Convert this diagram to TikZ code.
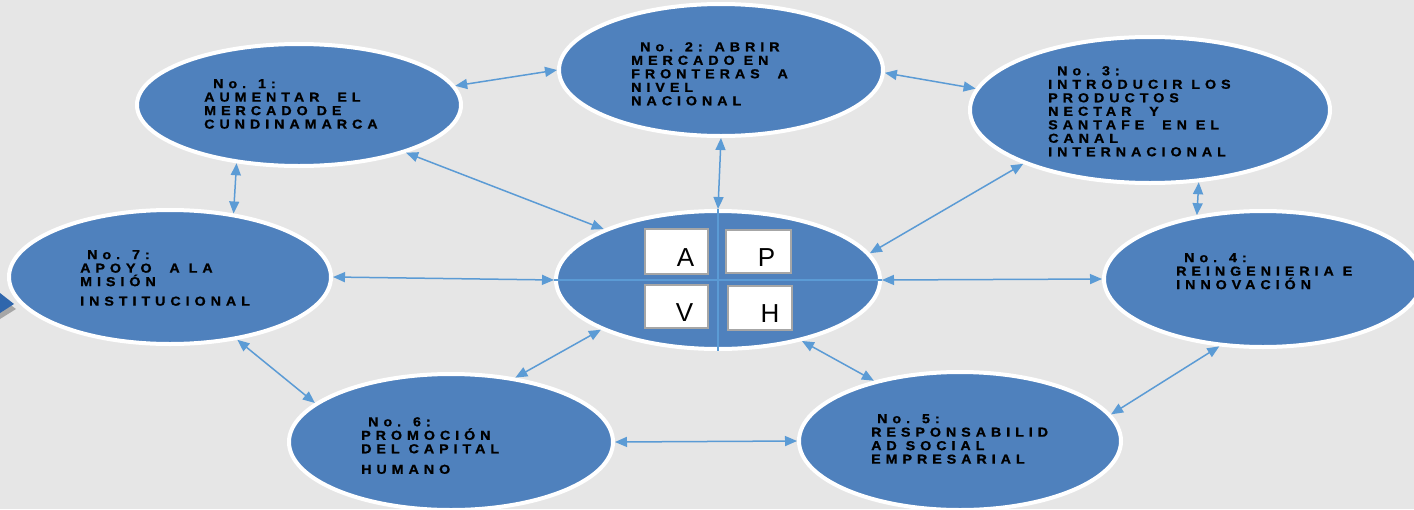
\documentclass[tikz,border=0pt]{standalone}
\usepackage{fontspec}
\setmainfont{Liberation Sans}
\newfontfamily\goalfont{Liberation Sans Bold}[LetterSpace=38, FakeStretch=1.1, FakeBold=1]
\usepackage{tikz}
\usetikzlibrary{shapes.geometric}
\usetikzlibrary{arrows.meta}

\definecolor{bgcol}{RGB}{230,230,230}
\definecolor{ellfill}{RGB}{79,129,189}
\definecolor{linkcol}{RGB}{91,155,213}
\definecolor{boxline}{RGB}{166,166,166}
\definecolor{tipblue}{RGB}{47,102,172}

\begin{document}
\begin{tikzpicture}[x=1pt, y=-1pt,
        goal/.style={ellipse, draw=white, line width=4pt, fill=ellfill, inner sep=0pt},
        lbl/.style={anchor=north west, align=left, inner sep=0pt, text=black,
            font=\goalfont\fontsize{13}{13.5}\selectfont},
        link/.style={{Triangle[length=12pt,width=10pt]}-{Triangle[length=12pt,width=10pt]},
            line width=1.5pt, draw=linkcol},
        letterbox/.style={rectangle, draw=boxline, line width=2pt, fill=white,
            inner sep=0pt, text height=29pt, text depth=0pt,
            font=\fontsize{26}{26}\selectfont}
    ]
        % background and page size
        \fill[bgcol] (0,0) rectangle (1414,509);
        \useasboundingbox (0,0) rectangle (1414,509);

        % piece of arrow at the left border
        \fill[gray!70] (0,297) -- (16,309) -- (0,319) -- cycle;
        \fill[tipblue] (0,293) -- (14,304) -- (0,313) -- cycle;

        % goals
        \node[goal, minimum width=324, minimum height=138](e0) at (718,280){};
        \node[goal, minimum width=324, minimum height=122](e1) at (299,105){};
        \node[goal, minimum width=324, minimum height=132](e2) at (721,70){};
        \node[goal, minimum width=360, minimum height=146](e3) at (1150,110){};
        \node[goal, minimum width=318, minimum height=136](e4) at (1263,279){};
        \node[goal, minimum width=322, minimum height=138](e5) at (960,441){};
        \node[goal, minimum width=324, minimum height=136](e6) at (451,442){};
        \node[goal, minimum width=322, minimum height=134](e7) at (170,277){};

        \node[lbl](t1) at (204,79){\hspace*{9pt}No. 1:\\AUMENTAR~ EL\\MERCADO DE\\CUNDINAMARCA};
        \node[lbl](t2) at (631,42){\hspace*{9pt}No. 2: ABRIR\\MERCADO EN\\FRONTERAS~ A\\NIVEL\\NACIONAL};
        \node[lbl](t3) at (1048,66){\hspace*{9pt}No. 3:\\INTRODUCIR LOS\\PRODUCTOS\\NECTAR~ Y\\SANTAFE~ EN EL\\CANAL\\INTERNACIONAL};
        \node[lbl](t4) at (1176,253){\hspace*{8pt}No. 4:\\REINGENIERIA E\\INNOVACIÓN};
        \node[lbl](t5) at (871,414){\hspace*{6pt}No. 5:\\RESPONSABILID\\AD SOCIAL\\EMPRESARIAL};
        \node[lbl](t6) at (361,417){\hspace*{7pt}No. 6:\\PROMOCIÓN\\DEL CAPITAL\\[7pt]HUMANO};
        \node[lbl](t7) at (80,250){\hspace*{7pt}No. 7:\\APOYO~ A LA\\MISIÓN\\[6pt]INSTITUCIONAL};

        % cross in the middle
        \draw[line width=1.2pt, linkcol] (e0.north) -- (e0.south);
        \draw[line width=1.2pt, linkcol] (e0.west) -- (e0.east);

        \node[letterbox, minimum width=63, minimum height=45](bA) at (676.5,251.5){\hspace*{18pt}A};
        \node[letterbox, minimum width=65, minimum height=43](bP) at (758.5,251.5){\hspace*{16pt}P};
        \node[letterbox, minimum width=63, minimum height=43](bV) at (676.5,306.5){\hspace*{16pt}V};
        \node[letterbox, minimum width=64, minimum height=44](bH) at (760,308){\hspace*{20pt}H};

        % links
        \draw[link] (e1.7) -- (e2.180);
        \draw[link] (e2.-1) -- (e3.173);
        \draw[link] (e1.-24) -- (e0.156.5);
        \draw[link] (e2.south) -- (e0.north);
        \draw[link] (e3.203.7) -- (e0.10.6);
        \draw[link] (e3.-56.7) -- (e4.136);
        \draw[link] (e1.223.7) -- (e7.45.9);
        \draw[link] (e7.east) -- (e0.west);
        \draw[link] (e0.east) -- (e4.west);
        \draw[link] (e7.-43.7) -- (e6.164.6);
        \draw[link] (e0.203.5) -- (e6.45);
        \draw[link] (e0.-36.3) -- (e5.145.9);
        \draw[link] (e6.east) -- (e5.west);
        \draw[link] (e5.10) -- (e4.237.1);
    \end{tikzpicture}
\end{document}
